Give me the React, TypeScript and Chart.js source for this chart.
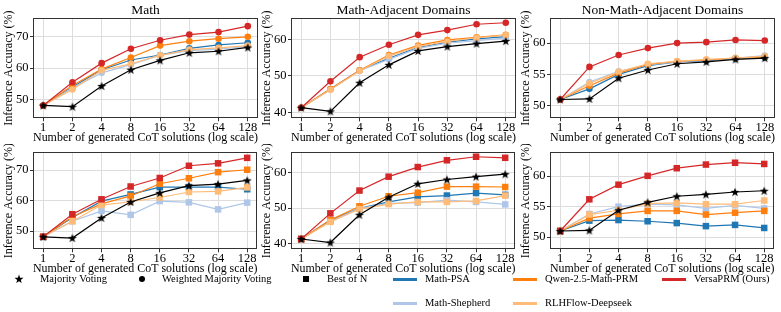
import React, { useEffect, useRef } from "react";
import { Chart, registerables } from "chart.js";

Chart.register(...registerables);

const FONT = '"Liberation Serif", "Times New Roman", Times, serif';

// ---------- data ----------
const nValues = [1, 2, 4, 8, 16, 32, 64, 128];
const xTickLabels = ["1", "2", "4", "8", "16", "32", "64", "128"];

const mathYTicks = [50, 60, 70];
const adjYTicks = [40, 50, 60];
const nonYTicks = [50, 55, 60];

// Majority voting (same in both rows)
const majorityMath = [48.1, 47.7, 54.3, 59.5, 62.5, 64.9, 65.4, 66.6];
const majorityAdj = [41.3, 40.3, 48.1, 53.0, 56.8, 58.0, 58.8, 59.5];
const majorityNon = [51.0, 51.1, 54.4, 55.7, 56.7, 57.0, 57.4, 57.6];

// Weighted majority voting (top row)
const wmvMathPSA = [48.1, 54.0, 59.5, 62.6, 64.2, 66.3, 67.4, 68.1];
const wmvMathShepherd = [48.1, 53.7, 58.5, 61.1, 64.1, 65.6, 66.1, 66.9];
const wmvMathQwen = [48.1, 54.5, 59.7, 63.4, 67.2, 68.6, 69.4, 70.0];
const wmvMathRLHF = [48.1, 53.2, 59.3, 61.4, 64.1, 65.9, 66.5, 67.2];
const wmvMathVersa = [48.1, 55.5, 61.6, 66.2, 68.9, 70.7, 71.5, 73.4];

const wmvAdjPSA = [41.3, 46.4, 51.5, 54.8, 57.8, 59.2, 60.1, 60.7];
const wmvAdjShepherd = [41.3, 46.3, 51.4, 54.5, 57.5, 58.9, 59.6, 60.3];
const wmvAdjQwen = [41.3, 46.4, 51.5, 55.7, 58.3, 59.8, 60.5, 61.2];
const wmvAdjRLHF = [41.3, 46.2, 51.4, 55.4, 58.0, 59.4, 60.4, 61.1];
const wmvAdjVersa = [41.3, 48.5, 55.1, 58.5, 61.2, 62.5, 64.1, 64.5];

const wmvNonPSA = [51.0, 52.7, 55.0, 56.4, 57.0, 57.2, 57.5, 57.7];
const wmvNonShepherd = [51.0, 53.8, 55.5, 56.5, 57.0, 57.3, 57.6, 58.0];
const wmvNonQwen = [51.0, 53.2, 55.2, 56.6, 57.1, 57.3, 57.6, 57.8];
const wmvNonRLHF = [51.0, 53.6, 55.4, 56.7, 57.1, 57.4, 57.6, 57.9];
const wmvNonVersa = [51.0, 56.2, 58.1, 59.2, 60.0, 60.15, 60.5, 60.4];

// Best of N (bottom row)
const bonMathPSA = [48.1, 54.4, 59.8, 62.0, 64.4, 64.4, 64.4, 63.7];
const bonMathShepherd = [48.1, 53.2, 56.6, 55.3, 59.8, 59.4, 57.1, 59.3];
const bonMathQwen = [48.1, 54.7, 58.9, 61.5, 65.5, 67.3, 69.3, 70.1];
const bonMathRLHF = [48.1, 53.2, 58.5, 59.6, 61.0, 62.8, 63.0, 64.3];
const bonMathVersa = [48.1, 55.5, 60.4, 64.6, 67.4, 71.4, 72.2, 74.0];

const bonAdjPSA = [41.3, 46.6, 49.9, 51.7, 53.1, 53.5, 54.2, 53.7];
const bonAdjShepherd = [41.3, 46.3, 49.9, 51.3, 51.5, 52.2, 51.7, 51.0];
const bonAdjQwen = [41.3, 46.6, 50.5, 53.3, 54.3, 56.0, 56.0, 55.9];
const bonAdjRLHF = [41.3, 46.1, 49.7, 51.1, 51.7, 51.7, 52.0, 53.5];
const bonAdjVersa = [41.3, 48.5, 54.9, 58.8, 61.5, 63.4, 64.4, 64.1];

const bonNonPSA = [51.0, 52.7, 52.8, 52.6, 52.3, 51.8, 52.0, 51.5];
const bonNonShepherd = [51.0, 53.8, 55.0, 55.4, 55.3, 54.7, 55.2, 54.7];
const bonNonQwen = [51.0, 53.1, 53.8, 54.3, 54.3, 53.7, 54.0, 54.3];
const bonNonRLHF = [51.0, 53.7, 54.4, 55.5, 55.6, 55.4, 55.4, 56.0];
const bonNonVersa = [51.0, 56.2, 58.6, 60.05, 61.3, 61.9, 62.2, 62.0];

const COLORS = {
  majority: "#000000",
  psa: "#1f77b4",
  shepherd: "#aec7e8",
  qwen: "#ff7f0e",
  rlhf: "#ffbb78",
  versa: "#d62728",
};

type PanelDef = {
  title: string | null;
  yMin: number;
  yMax: number;
  yTicks: number[];
  majority: number[];
  psa: number[];
  shepherd: number[];
  qwen: number[];
  rlhf: number[];
  versa: number[];
  marker: "circle" | "rect";
  plotLeft: number;
  row: 0 | 1;
};

const PANELS: PanelDef[] = [
  { title: "Math", yMin: 44, yMax: 76, yTicks: mathYTicks, majority: majorityMath, psa: wmvMathPSA, shepherd: wmvMathShepherd, qwen: wmvMathQwen, rlhf: wmvMathRLHF, versa: wmvMathVersa, marker: "circle", plotLeft: 33, row: 0 },
  { title: "Math-Adjacent Domains", yMin: 38.4, yMax: 65.8, yTicks: adjYTicks, majority: majorityAdj, psa: wmvAdjPSA, shepherd: wmvAdjShepherd, qwen: wmvAdjQwen, rlhf: wmvAdjRLHF, versa: wmvAdjVersa, marker: "circle", plotLeft: 291, row: 0 },
  { title: "Non-Math-Adjacent Domains", yMin: 48, yMax: 64, yTicks: nonYTicks, majority: majorityNon, psa: wmvNonPSA, shepherd: wmvNonShepherd, qwen: wmvNonQwen, rlhf: wmvNonRLHF, versa: wmvNonVersa, marker: "circle", plotLeft: 550, row: 0 },
  { title: null, yMin: 44, yMax: 76, yTicks: mathYTicks, majority: majorityMath, psa: bonMathPSA, shepherd: bonMathShepherd, qwen: bonMathQwen, rlhf: bonMathRLHF, versa: bonMathVersa, marker: "rect", plotLeft: 33, row: 1 },
  { title: null, yMin: 38.4, yMax: 65.8, yTicks: adjYTicks, majority: majorityAdj, psa: bonAdjPSA, shepherd: bonAdjShepherd, qwen: bonAdjQwen, rlhf: bonAdjRLHF, versa: bonAdjVersa, marker: "rect", plotLeft: 291, row: 1 },
  { title: null, yMin: 48, yMax: 64, yTicks: nonYTicks, majority: majorityNon, psa: bonNonPSA, shepherd: bonNonShepherd, qwen: bonNonQwen, rlhf: bonNonRLHF, versa: bonNonVersa, marker: "rect", plotLeft: 550, row: 1 },
];

// ---------- layout ----------
const Y_AXIS_W = 33;
const PLOT_W = 225;
const RIGHT_PAD = 4;
const CANVAS_W = Y_AXIS_W + PLOT_W + RIGHT_PAD;
const X_AXIS_H = 25.7;
const ROW_TOP = [0, 144];
const ROW_H = [144, 131];
const ROW_PAD_TOP = [0, 4.3];

function starPoints(cx: number, cy: number, outer: number, inner: number): [number, number][] {
  const pts: [number, number][] = [];
  for (let i = 0; i < 10; i++) {
    const r = i % 2 === 0 ? outer : inner;
    const a = -Math.PI / 2 + (i * Math.PI) / 5;
    pts.push([cx + r * Math.cos(a), cy + r * Math.sin(a)]);
  }
  return pts;
}

function makeStarCanvas(): HTMLCanvasElement {
  const c = document.createElement("canvas");
  c.width = 10;
  c.height = 10;
  const ctx = c.getContext("2d")!;
  const pts = starPoints(5, 5.4, 4.7, 1.9);
  ctx.beginPath();
  pts.forEach(([x, y], i) => (i === 0 ? ctx.moveTo(x, y) : ctx.lineTo(x, y)));
  ctx.closePath();
  ctx.fillStyle = "#000";
  ctx.fill();
  return c;
}

const framePlugin = {
  id: "frame",
  beforeDatasetsDraw(chart: any) {
    const { ctx, chartArea: a } = chart;
    ctx.save();
    ctx.strokeStyle = "#333333";
    ctx.lineWidth = 1;
    const l = Math.round(a.left) + 0.5;
    const t = Math.round(a.top) + 0.5;
    const r = Math.round(a.right) - 0.5;
    const b = Math.round(a.bottom) - 0.5;
    ctx.strokeRect(l, t, r - l, b - t);
    ctx.restore();
  },
};

function makeConfig(p: PanelDef, star: HTMLCanvasElement): any {
  const mr = p.marker === "rect" ? 4.6 : 3.3;
  const series = [
    { label: "Majority Voting", data: p.majority, color: COLORS.majority, style: star as any, r: 4 },
    { label: "VersaPRM (Ours)", data: p.versa, color: COLORS.versa, style: p.marker, r: mr },
    { label: "RLHFlow-Deepseek", data: p.rlhf, color: COLORS.rlhf, style: p.marker, r: mr },
    { label: "Qwen-2.5-Math-PRM", data: p.qwen, color: COLORS.qwen, style: p.marker, r: mr },
    { label: "Math-Shepherd", data: p.shepherd, color: COLORS.shepherd, style: p.marker, r: mr },
    { label: "Math-PSA", data: p.psa, color: COLORS.psa, style: p.marker, r: mr },
  ];
  const margin = Math.pow(2, 0.35);
  return {
    type: "line",
    data: {
      datasets: series.map((s) => ({
        label: s.label,
        data: nValues.map((n, i) => ({ x: n, y: s.data[i] })),
        borderColor: s.color,
        backgroundColor: s.color,
        pointBackgroundColor: s.color,
        pointBorderColor: s.color,
        pointBorderWidth: 0,
        pointStyle: s.style,
        pointRadius: s.r,
        borderWidth: 1.2,
        tension: 0,
        fill: false,
        clip: false,
      })),
    },
    options: {
      responsive: false,
      animation: false,
      events: [],
      layout: { padding: { left: 0, right: RIGHT_PAD, top: ROW_PAD_TOP[p.row], bottom: 0 } },
      plugins: {
        legend: { display: false },
        tooltip: { enabled: false },
        title: {
          display: !!p.title,
          fullSize: false,
          text: p.title ?? "",
          color: "#000",
          font: { family: FONT, size: 13.5, weight: "normal", lineHeight: 1 },
          padding: { top: 4, bottom: 0.5 },
        },
      },
      scales: {
        x: {
          type: "logarithmic",
          min: nValues[0] / margin,
          max: nValues[nValues.length - 1] * margin,
          afterBuildTicks: (s: any) => {
            s.ticks = nValues.map((v) => ({ value: v }));
          },
          afterFit: (s: any) => {
            s.height = X_AXIS_H;
          },
          ticks: {
            autoSkip: false,
            maxRotation: 0,
            color: "#000",
            padding: 0,
            font: { family: FONT, size: 12.5, lineHeight: 1 },
            callback: (v: any) => {
              const i = nValues.indexOf(Number(v));
              return i >= 0 ? xTickLabels[i] : "";
            },
          },
          grid: { color: "#dddddd", lineWidth: 1, drawTicks: true, tickLength: 3, tickColor: "#333333" },
          border: { display: false },
          title: {
            display: true,
            text: "Number of generated CoT solutions (log scale)",
            color: "#000",
            font: { family: FONT, size: 12, lineHeight: 1 },
            padding: { top: 0, bottom: 0 },
          },
        },
        y: {
          type: "linear",
          min: p.yMin,
          max: p.yMax,
          afterBuildTicks: (s: any) => {
            s.ticks = p.yTicks.map((v) => ({ value: v }));
          },
          afterFit: (s: any) => {
            s.width = Y_AXIS_W;
          },
          ticks: {
            color: "#000",
            padding: 1.5,
            font: { family: FONT, size: 12.5, lineHeight: 1 },
            callback: (v: any) => String(v),
          },
          grid: { color: "#dddddd", lineWidth: 1, drawTicks: true, tickLength: 3, tickColor: "#333333" },
          border: { display: false },
          title: {
            display: true,
            text: "Inference Accuracy (%)",
            color: "#000",
            font: { family: FONT, size: 12, lineHeight: 1 },
            padding: { top: 3, bottom: 0 },
          },
        },
      },
    },
    plugins: [framePlugin],
  };
}

function StarIcon({ x, y }: { x: number; y: number }) {
  const pts = starPoints(5, 5.3, 4.7, 1.9)
    .map(([a, b]) => `${a.toFixed(2)},${b.toFixed(2)}`)
    .join(" ");
  return (
    <svg width={10} height={10} style={{ position: "absolute", left: x - 5, top: y - 5 }}>
      <polygon points={pts} fill="#000" />
    </svg>
  );
}

const legendText: React.CSSProperties = {
  position: "absolute",
  fontFamily: FONT,
  fontSize: "10.5px",
  lineHeight: "14px",
  height: 14,
  color: "#000",
  whiteSpace: "nowrap",
};

const ROW1 = 279;
const ROW2 = 303;

const legendLines = [
  { label: "Math-PSA", color: COLORS.psa, x: 393, y: ROW1 },
  { label: "Qwen-2.5-Math-PRM", color: COLORS.qwen, x: 513, y: ROW1 },
  { label: "VersaPRM (Ours)", color: COLORS.versa, x: 662, y: ROW1 },
  { label: "Math-Shepherd", color: COLORS.shepherd, x: 393, y: ROW2 },
  { label: "RLHFlow-Deepseek", color: COLORS.rlhf, x: 513, y: ROW2 },
];

export default function App() {
  const refs = useRef<(HTMLCanvasElement | null)[]>([]);

  useEffect(() => {
    const star = makeStarCanvas();
    const charts = PANELS.map((p, i) => {
      const c = refs.current[i]!;
      return new Chart(c, makeConfig(p, star));
    });
    return () => charts.forEach((ch) => ch.destroy());
  }, []);

  return (
    <div style={{ position: "absolute", left: 0, top: 0, width: 781, height: 312, background: "#fff", overflow: "hidden" }}>
      {PANELS.map((p, i) => (
        <canvas
          key={i}
          ref={(el) => {
            refs.current[i] = el;
          }}
          width={CANVAS_W}
          height={ROW_H[p.row]}
          style={{
            position: "absolute",
            left: p.plotLeft - Y_AXIS_W,
            top: ROW_TOP[p.row],
            width: CANVAS_W,
            height: ROW_H[p.row],
          }}
        />
      ))}

      <StarIcon x={19} y={ROW1} />
      <div style={{ ...legendText, left: 40, top: ROW1 - 7 }}>Majority Voting</div>
      <div style={{ position: "absolute", left: 139, top: ROW1 - 3, width: 6, height: 6, borderRadius: 3, background: "#000" }} />
      <div style={{ ...legendText, left: 162, top: ROW1 - 7 }}>Weighted Majority Voting</div>
      <div style={{ position: "absolute", left: 303, top: ROW1 - 3, width: 6, height: 6, background: "#000" }} />
      <div style={{ ...legendText, left: 327, top: ROW1 - 7 }}>Best of N</div>

      {legendLines.map((l) => (
        <React.Fragment key={l.label}>
          <div style={{ position: "absolute", left: l.x, top: l.y - 1.5, width: 24, height: 3, background: l.color }} />
          <div style={{ ...legendText, left: l.x + 32, top: l.y - 7 }}>{l.label}</div>
        </React.Fragment>
      ))}
    </div>
  );
}
